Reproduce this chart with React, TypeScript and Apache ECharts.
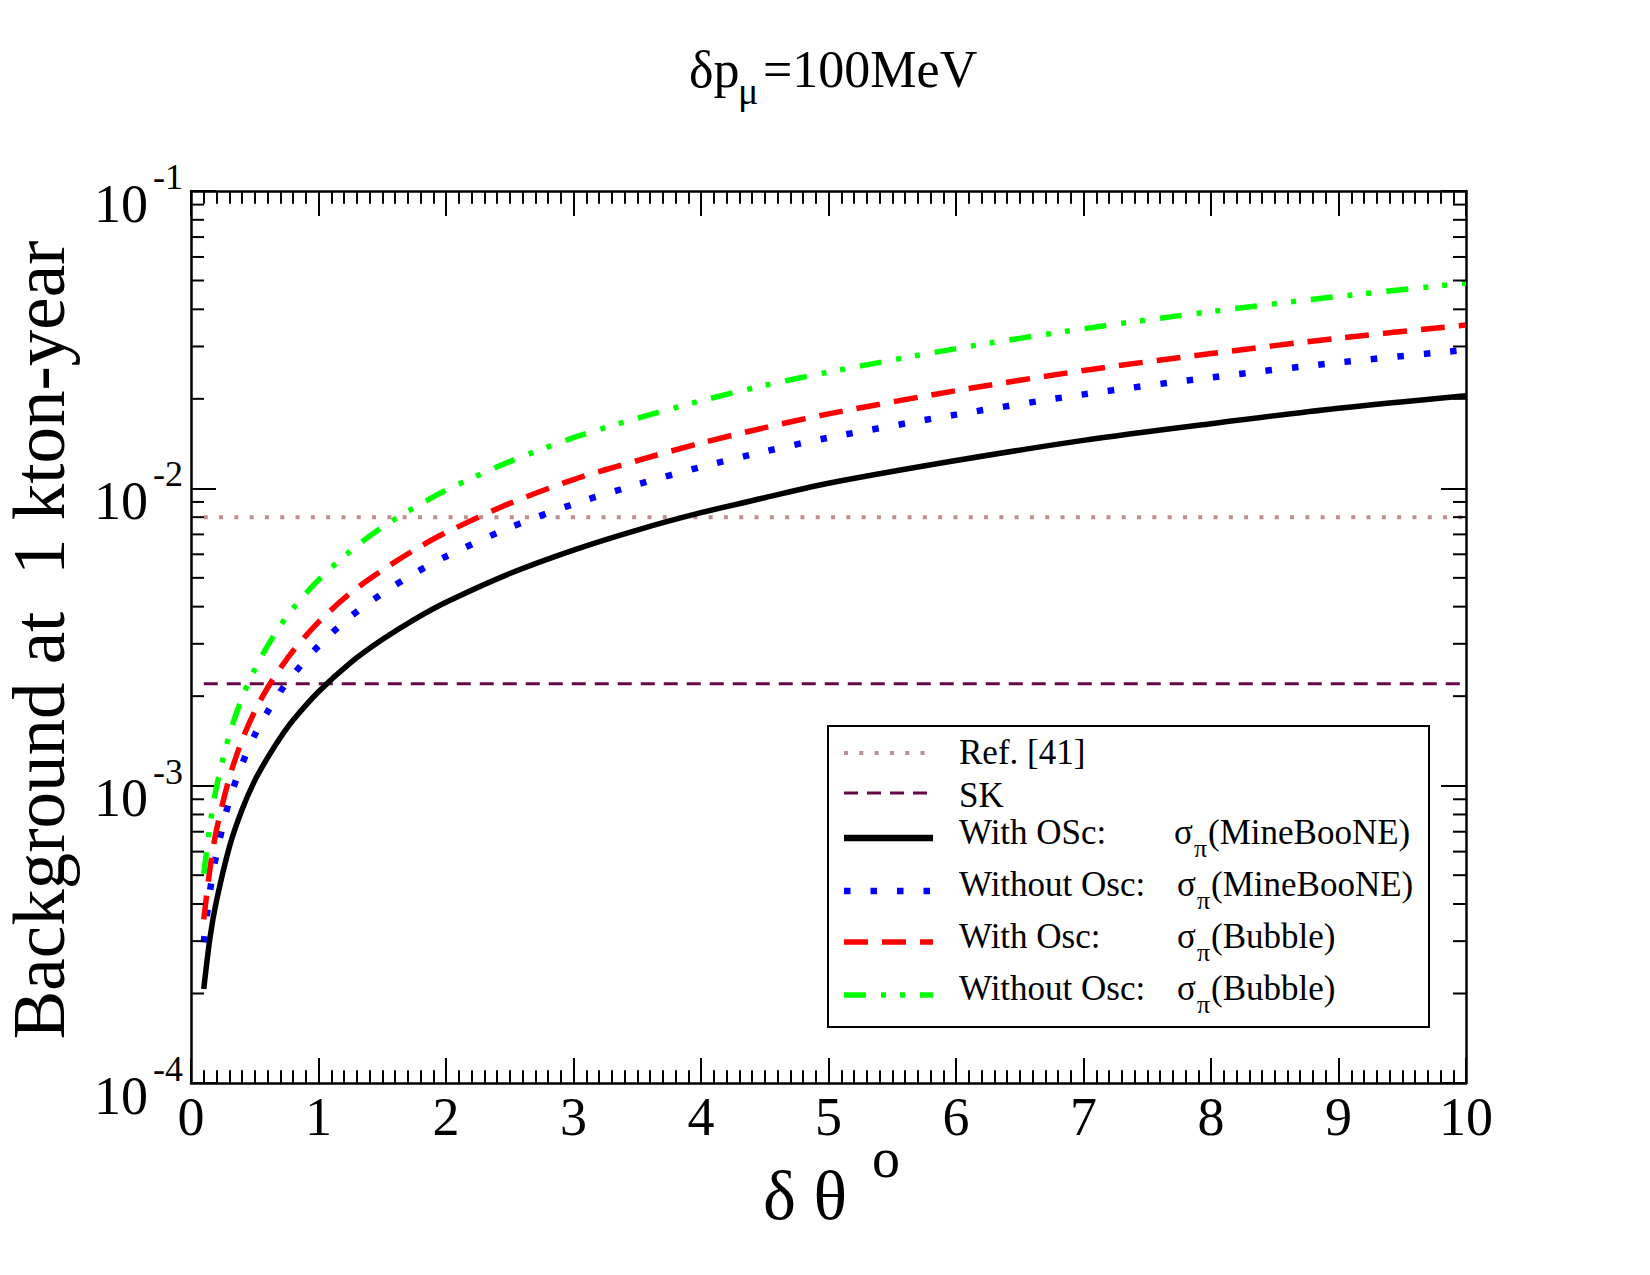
import React, { useEffect, useRef } from "react";
import * as echarts from "echarts";

// Opening angle delta-theta (degrees)
const angles = [0.1, 0.15, 0.2, 0.3, 0.4, 0.5, 0.6, 0.7, 0.8, 1, 1.25, 1.5, 1.75, 2, 2.5, 3, 3.5, 4, 4.5, 5, 6, 7, 8, 9, 10];

// Background per 1 kton-year
const withOscMiniBooNE = [2.07e-4, 3.1e-4, 4.1e-4, 6.2e-4, 8.3e-4, 1.04e-3, 1.24e-3, 1.45e-3, 1.66e-3, 2.07e-3, 2.59e-3, 3.1e-3, 3.62e-3, 4.14e-3, 5.17e-3, 6.2e-3, 7.24e-3, 8.28e-3, 9.3e-3, 0.0104, 0.0124, 0.0145, 0.0165, 0.0186, 0.0205];
const withoutOscMiniBooNE = [2.97e-4, 4.45e-4, 5.9e-4, 8.9e-4, 1.18e-3, 1.48e-3, 1.77e-3, 2.07e-3, 2.36e-3, 2.95e-3, 3.7e-3, 4.43e-3, 5.17e-3, 5.9e-3, 7.38e-3, 8.85e-3, 0.0103, 0.0118, 0.0133, 0.0148, 0.0177, 0.0207, 0.0236, 0.0265, 0.0292];
const withOscBubble = [3.55e-4, 5.3e-4, 7.1e-4, 1.06e-3, 1.42e-3, 1.78e-3, 2.13e-3, 2.48e-3, 2.84e-3, 3.55e-3, 4.44e-3, 5.3e-3, 6.2e-3, 7.1e-3, 8.9e-3, 0.0107, 0.0124, 0.0142, 0.016, 0.0178, 0.0213, 0.0249, 0.0284, 0.032, 0.0354];
const withoutOscBubble = [5.05e-4, 7.4e-4, 9.9e-4, 1.48e-3, 1.97e-3, 2.46e-3, 2.95e-3, 3.45e-3, 3.94e-3, 4.92e-3, 6.15e-3, 7.4e-3, 8.6e-3, 9.85e-3, 0.0123, 0.0148, 0.0172, 0.0197, 0.0222, 0.0246, 0.0295, 0.0344, 0.0393, 0.0442, 0.049];

// Reference levels (flat lines)
const levelRange = [0.1, 10];
const ref41Level = 0.008;
const skLevel = 0.0022;

// Axis ticks
const xMin = 0;
const xMax = 10;
const yDecades = [-4, -3, -2, -1];
const yMinorMantissas = [2, 3, 4, 5, 6, 7, 8, 9];

// Legend text
const legendLabels = ["Ref. [41]", "SK", "With OSc:", "Without Osc:", "With Osc:", "Without Osc:"];
const legendSources = ["", "", "(MineBooNE)", "(MineBooNE)", "(Bubble)", "(Bubble)"];

const SERIF = '"Liberation Serif", "Times New Roman", serif';

const styles = [
  { color: "#bc8f8f", width: 4, dash: [4, 11.3] as any },
  { color: "#670748", width: 3, dash: [14, 9] as any },
  { color: "#000000", width: 5.5, dash: "solid" as any },
  { color: "#0000ff", width: 6.5, dash: [6.5, 20] as any },
  { color: "#ff0000", width: 5.5, dash: [24, 14] as any },
  { color: "#00ff00", width: 5.5, dash: [22, 15, 5, 14, 5, 15] as any },
];

function pairs(xs: number[], ys: number[]) {
  return xs.map((x, i) => [x, ys[i]]);
}

export default function App() {
  const ref = useRef<HTMLDivElement>(null);

  useEffect(() => {
    const chart = echarts.init(ref.current!, null, { renderer: "svg" });

    const yMinor: number[][] = [];
    yDecades.slice(0, -1).forEach((d) => {
      yMinorMantissas.forEach((m) => yMinor.push([0, m * Math.pow(10, d)]));
    });

    const axisLineStyle = { color: "#000", width: 2.5 };
    const tickStyle = { color: "#000", width: 2 };

    const xAxisBase = {
      type: "value",
      min: xMin,
      max: xMax,
      interval: 1,
      splitLine: { show: false },
      axisLine: { show: true, onZero: false, lineStyle: axisLineStyle },
      axisTick: { show: true, inside: true, length: 25, lineStyle: tickStyle },
      minorTick: { show: true, splitNumber: 10, length: 12.7, lineStyle: tickStyle },
      minorSplitLine: { show: false },
    };
    const yAxisBase = {
      type: "log",
      logBase: 10,
      min: Math.pow(10, yDecades[0]),
      max: Math.pow(10, yDecades[yDecades.length - 1]),
      splitLine: { show: false },
      axisLine: { show: true, onZero: false, lineStyle: axisLineStyle },
      axisTick: { show: true, inside: true, length: 25, lineStyle: tickStyle },
      axisLabel: { show: false },
    };

    const curve = (name: string, ys: number[], s: any, z = 3) => ({
      name,
      type: "line",
      data: pairs(angles, ys),
      showSymbol: false,
      symbol: "none",
      smooth: 0.3,
      z,
      lineStyle: { color: s.color, width: s.width, type: s.dash, cap: "butt" },
    });

    chart.setOption({
      animation: false,
      backgroundColor: "#fff",
      grid: { left: 191, right: 184, top: 191, bottom: 192, containLabel: false },
      xAxis: [
        {
          ...xAxisBase,
          position: "bottom",
          axisLabel: {
            show: true,
            margin: 7,
            fontFamily: SERIF,
            fontSize: 54,
            color: "#000",
          },
        },
        { ...xAxisBase, position: "top", axisLabel: { show: false } },
      ],
      yAxis: [
        { ...yAxisBase, position: "left" },
        { ...yAxisBase, position: "right" },
      ],
      series: [
        {
          name: "yMinorTicks",
          type: "custom",
          data: yMinor,
          silent: true,
          z: 5,
          renderItem: (params: any, api: any) => {
            const v = api.value(1);
            const pl = api.coord([xMin, v]);
            const pr = api.coord([xMax, v]);
            return {
              type: "group",
              children: [
                { type: "line", shape: { x1: pl[0], y1: pl[1], x2: pl[0] + 13, y2: pl[1] }, style: { stroke: "#000", lineWidth: 2 } },
                { type: "line", shape: { x1: pr[0], y1: pr[1], x2: pr[0] - 13, y2: pr[1] }, style: { stroke: "#000", lineWidth: 2 } },
              ],
            };
          },
        },
        {
          ...curve(legendLabels[0], [ref41Level, ref41Level], styles[0], 2),
          data: pairs(levelRange, [ref41Level, ref41Level]),
          smooth: false,
        },
        {
          ...curve(legendLabels[1], [skLevel, skLevel], styles[1], 2),
          data: pairs(levelRange, [skLevel, skLevel]),
          smooth: false,
        },
        curve("With OSc MiniBooNE", withOscMiniBooNE, styles[2], 4),
        curve("Without Osc MiniBooNE", withoutOscMiniBooNE, styles[3], 3),
        curve("With Osc Bubble", withOscBubble, styles[4], 3),
        curve("Without Osc Bubble", withoutOscBubble, styles[5], 3),
      ],
    });

    // baseline -> middle offset for serif text
    const mid = (baseline: number, fs: number) => baseline - 0.305 * fs;
    const txt = (text: string, x: number, baseline: number, fs: number, align = "left") => ({
      type: "text",
      x,
      y: mid(baseline, fs),
      style: { text, fill: "#000", font: `${fs}px ${SERIF}`, align, verticalAlign: "middle" },
    });

    const graphics: any[] = [];

    // y tick labels 10^n
    yDecades.forEach((d) => {
      const py = chart.convertToPixel({ yAxisIndex: 0 }, Math.pow(10, d)) as number;
      graphics.push(txt("10", 148, py + 29, 54, "right"));
      graphics.push(txt(String(d), 153, py - 3, 36, "left"));
    });

    // title
    graphics.push(txt("δp", 689, 85, 52));
    graphics.push(txt("μ", 738, 103, 38));
    graphics.push(txt("=100MeV", 763, 85, 52));

    // x axis title
    graphics.push(txt("δ θ", 763, 1217, 70));
    graphics.push(txt("o", 872, 1175, 56));

    // y axis title
    graphics.push({
      type: "text",
      x: 39,
      y: 640,
      rotation: Math.PI / 2,
      style: {
        text: "Background at  1 kton-year",
        fill: "#000",
        font: `73px ${SERIF}`,
        align: "center",
        verticalAlign: "middle",
      },
    });

    // legend box
    graphics.push({
      type: "rect",
      shape: { x: 828, y: 726, width: 601, height: 301 },
      style: { fill: "#fff", stroke: "#000", lineWidth: 2 },
      z: 10,
    });
    const lineYs = [753, 793, 838, 891, 942, 995];
    const baseYs = [763, 806, 843, 895, 947, 999];
    const sigmaXs = [0, 0, 1174, 1177, 1177, 1177];
    legendLabels.forEach((label, i) => {
      const s = styles[i];
      graphics.push({
        type: "line",
        z: 11,
        shape: { x1: 844, y1: lineYs[i], x2: 933, y2: lineYs[i] },
        style: {
          stroke: s.color,
          lineWidth: i === 2 ? 6.5 : s.width,
          lineDash: Array.isArray(s.dash) ? s.dash : null,
          lineCap: "butt",
        },
      });
      graphics.push({ ...txt(label, 959, baseYs[i], 35), z: 11 });
      if (legendSources[i]) {
        const sx = sigmaXs[i];
        graphics.push({ ...txt("σ", sx, baseYs[i], 35), z: 11 });
        graphics.push({ ...txt("π", sx + 20, baseYs[i] + 13, 26), z: 11 });
        graphics.push({ ...txt(legendSources[i], sx + 34, baseYs[i], 35), z: 11 });
      }
    });

    chart.setOption({ graphic: graphics });

    return () => chart.dispose();
  }, []);

  return (
    <div
      ref={ref}
      style={{ position: "fixed", left: 0, top: 0, width: 1650, height: 1275, background: "#fff" }}
    />
  );
}
